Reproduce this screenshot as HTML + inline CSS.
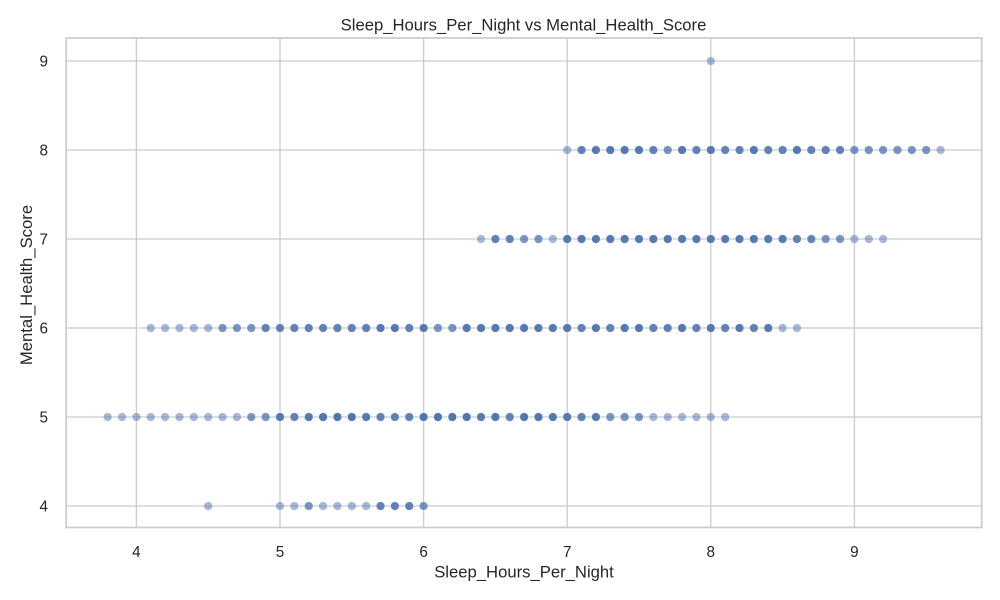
<!DOCTYPE html>
<html lang="en">
<head>
<meta charset="utf-8">
<title>Sleep_Hours_Per_Night vs Mental_Health_Score</title>
<style>
html,body{margin:0;padding:0;background:#fff;}
svg{display:block;}
text{font-family:"Liberation Sans",Arial,sans-serif;fill:#262626;}
</style>
</head>
<body>
<svg id="chart" xmlns="http://www.w3.org/2000/svg" width="1000" height="600" viewBox="0 0 1000 600">
  <rect x="0" y="0" width="1000" height="600" fill="#ffffff"></rect>
  <g id="grid"></g>
  <g id="points"></g>
  <rect x="66.2" y="38" width="915.5" height="489.5" fill="none" stroke="#cccccc" stroke-width="1.75"></rect>
  <g id="xticks"></g>
  <g id="yticks"></g>
  <text x="523.5" y="30.5" text-anchor="middle" font-size="16.67">Sleep_Hours_Per_Night vs Mental_Health_Score</text>
  <text x="524" y="577.5" text-anchor="middle" font-size="16.67">Sleep_Hours_Per_Night</text>
  <text x="32" y="285" text-anchor="middle" font-size="16.67" transform="rotate(-90 32 285)">Mental_Health_Score</text>
</svg>
<script>
const xTickLabels = [4, 5, 6, 7, 8, 9];
const yTickLabels = [4, 5, 6, 7, 8, 9];

const hoursScore4 = [4.5, 5.0, 5.1, 5.2, 5.3, 5.4, 5.5, 5.6, 5.7, 5.8, 5.9, 6.0];
const countsScore4 = [1, 1, 1, 2, 1, 1, 1, 1, 3, 3, 3, 2];

const hoursScore5 = [3.8, 3.9, 4.0, 4.1, 4.2, 4.3, 4.4, 4.5, 4.6, 4.7, 4.8, 4.9, 5.0, 5.1, 5.2, 5.3, 5.4, 5.5, 5.6, 5.7, 5.8, 5.9, 6.0, 6.1, 6.2, 6.3, 6.4, 6.5, 6.6, 6.7, 6.8, 6.9, 7.0, 7.1, 7.2, 7.3, 7.4, 7.5, 7.6, 7.7, 7.8, 7.9, 8.0, 8.1];
const countsScore5 = [1, 1, 1, 1, 1, 1, 1, 1, 1, 1, 2, 2, 4, 3, 4, 5, 5, 5, 4, 3, 3, 3, 5, 5, 5, 5, 4, 5, 3, 5, 5, 4, 4, 3, 4, 2, 2, 2, 1, 1, 1, 1, 1, 1];

const hoursScore6 = [4.1, 4.2, 4.3, 4.4, 4.5, 4.6, 4.7, 4.8, 4.9, 5.0, 5.1, 5.2, 5.3, 5.4, 5.5, 5.6, 5.7, 5.8, 5.9, 6.0, 6.1, 6.2, 6.3, 6.4, 6.5, 6.6, 6.7, 6.8, 6.9, 7.0, 7.1, 7.2, 7.3, 7.4, 7.5, 7.6, 7.7, 7.8, 7.9, 8.0, 8.1, 8.2, 8.3, 8.4, 8.5, 8.6];
const countsScore6 = [1, 1, 1, 1, 1, 2, 2, 2, 3, 3, 3, 3, 3, 3, 3, 3, 4, 4, 3, 4, 2, 2, 4, 4, 4, 4, 4, 4, 4, 4, 3, 4, 3, 4, 4, 3, 3, 4, 3, 4, 3, 4, 3, 4, 1, 1];

const hoursScore7 = [6.4, 6.5, 6.6, 6.7, 6.8, 6.9, 7.0, 7.1, 7.2, 7.3, 7.4, 7.5, 7.6, 7.7, 7.8, 7.9, 8.0, 8.1, 8.2, 8.3, 8.4, 8.5, 8.6, 8.7, 8.8, 8.9, 9.0, 9.1, 9.2];
const countsScore7 = [1, 3, 3, 2, 2, 1, 4, 4, 4, 4, 4, 4, 4, 4, 4, 4, 4, 4, 4, 4, 4, 4, 3, 3, 2, 2, 1, 1, 1];

const hoursScore8 = [7.0, 7.1, 7.2, 7.3, 7.4, 7.5, 7.6, 7.7, 7.8, 7.9, 8.0, 8.1, 8.2, 8.3, 8.4, 8.5, 8.6, 8.7, 8.8, 8.9, 9.0, 9.1, 9.2, 9.3, 9.4, 9.5, 9.6];
const countsScore8 = [1, 3, 4, 4, 4, 4, 3, 2, 4, 3, 4, 3, 3, 4, 3, 3, 4, 3, 3, 3, 2, 2, 2, 2, 2, 2, 1];

const hoursScore9 = [8.0];
const countsScore9 = [1];

const SVG_NS = 'http://www.w3.org/2000/svg';
function xScale(v) { return 136.4 + (v - 4) * 143.6; }
function yScale(v) { return 506 - (v - 4) * 89; }

const gridGroup = document.getElementById('grid');
const xTickGroup = document.getElementById('xticks');
const yTickGroup = document.getElementById('yticks');
const pointGroup = document.getElementById('points');

xTickLabels.forEach(function (t) {
  const line = document.createElementNS(SVG_NS, 'line');
  
  
  line.setAttribute('x1', xScale(t));
  line.setAttribute('x2', xScale(t));
  line.setAttribute('y1', 38);
  line.setAttribute('y2', 527);
  line.setAttribute('stroke', '#cccccc');
  line.setAttribute('stroke-width', 1.3);
  gridGroup.appendChild(line);
  const label = document.createElementNS(SVG_NS, 'text');
  
  
  label.setAttribute('x', xScale(t));
  label.setAttribute('y', 557);
  label.setAttribute('text-anchor', 'middle');
  label.setAttribute('font-size', '15.28');
  label.textContent = t;
  xTickGroup.appendChild(label);
});

yTickLabels.forEach(function (t) {
  const line = document.createElementNS(SVG_NS, 'line');
  
  
  line.setAttribute('x1', 66);
  line.setAttribute('x2', 982);
  line.setAttribute('y1', yScale(t));
  line.setAttribute('y2', yScale(t));
  line.setAttribute('stroke', '#cccccc');
  line.setAttribute('stroke-width', 1.3);
  gridGroup.appendChild(line);
  const label = document.createElementNS(SVG_NS, 'text');
  
  
  label.setAttribute('x', 48);
  label.setAttribute('y', yScale(t) + 5.5);
  label.setAttribute('text-anchor', 'end');
  label.setAttribute('font-size', '15.28');
  label.textContent = t;
  yTickGroup.appendChild(label);
});

function drawScore(score, hours, counts) {
  hours.forEach(function (h, i) {
    for (let k = 0; k < counts[i]; k++) {
      const dot = document.createElementNS(SVG_NS, 'circle');
      
      
      dot.setAttribute('cx', xScale(h));
      dot.setAttribute('cy', yScale(score));
      dot.setAttribute('r', 4.3);
      dot.setAttribute('fill', '#4c72b0');
      dot.setAttribute('fill-opacity', 0.5);
      dot.setAttribute('stroke', '#ffffff');
      dot.setAttribute('stroke-opacity', 0.5);
      dot.setAttribute('stroke-width', 0.5);
      pointGroup.appendChild(dot);
    }
  });
}

drawScore(4, hoursScore4, countsScore4);
drawScore(5, hoursScore5, countsScore5);
drawScore(6, hoursScore6, countsScore6);
drawScore(7, hoursScore7, countsScore7);
drawScore(8, hoursScore8, countsScore8);
drawScore(9, hoursScore9, countsScore9);
</script>
</body>
</html>
